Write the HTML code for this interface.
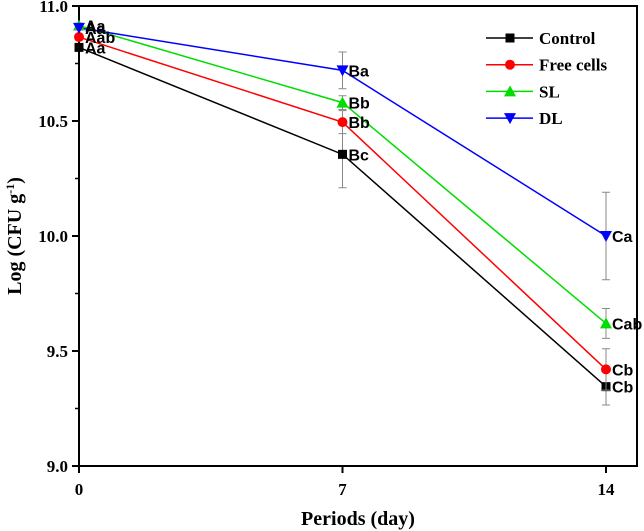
<!DOCTYPE html>
<html><head><meta charset="utf-8"><style>
body{margin:0;background:#fff;}
svg{display:block;font-family:"Liberation Serif",serif;}
.lab{font-family:"Liberation Sans",sans-serif;font-weight:bold;font-size:16px;}
</style></head><body>
<svg id="c" width="644" height="531" xmlns="http://www.w3.org/2000/svg"></svg>
<script>
const days=[0,7,14];
const xTicks=[0,7,14];
const yTicks=[9.0,9.5,10.0,10.5,11.0];
const names=["Control","Free cells","SL","DL"];
const colors=["#000","#f00","#0d0","#00f"];
const ctrl=[10.82,10.355,9.345];
const free=[10.865,10.495,9.42];
const sl=[10.915,10.58,9.62];
const dl=[10.905,10.72,10.0];
const ctrlErr=[0.01,0.145,0.08];
const freeErr=[0.01,0.05,0.09];
const slErr=[0.01,0.03,0.065];
const dlErr=[0.01,0.08,0.19];
const ctrlLab=["Aa","Bc","Cb"];
const freeLab=["Aab","Bb","Cb"];
const slLab=["Aa","Bb","Cab"];
const dlLab=["Aa","Ba","Ca"];
const series=[ctrl,free,sl,dl],errs=[ctrlErr,freeErr,slErr,dlErr],labs=[ctrlLab,freeLab,slLab,dlLab];
const L=79,R=637,T=6,B=466;
const X=d=>L+d*(606-79)/14;
const Y=v=>B-(v-9)*(B-T)/2;
const svg=document.getElementById('c');
const NS="http://www.w3.org/2000/svg";
function el(t,a,txt){const e=document.createElementNS(NS,t);for(const k in a)e.setAttribute(k,a[k]);if(txt!=null)e.textContent=txt;svg.appendChild(e);return e;}
let f=el('rect',{x:L,y:T,width:R-L,height:B-T,fill:'none',stroke:'#000','stroke-width':2});


yTicks.forEach((v,i)=>{
 let t=el('line',{x1:L-7,x2:L,y1:Y(v),y2:Y(v),stroke:'#000','stroke-width':2});
 
 
 if(i<yTicks.length-1){let m=el('line',{x1:L-4,x2:L,y1:Y(v+0.25),y2:Y(v+0.25),stroke:'#000','stroke-width':1.5});
 
 }
 let l=el('text',{x:L-11,y:Y(v)+6,'text-anchor':'end','font-size':17,'font-weight':'bold'},v.toFixed(1));
 
 
});
xTicks.forEach(d=>{
 let t=el('line',{x1:X(d),x2:X(d),y1:B,y2:B+7,stroke:'#000','stroke-width':2});
 
 
 let l=el('text',{x:X(d),y:B+29,'text-anchor':'middle','font-size':17,'font-weight':'bold'},d);
 
 
});
let xt=el('text',{x:(L+R)/2,y:525,'text-anchor':'middle','font-size':20,'font-weight':'bold'},'Periods (day)');


let yt=el('text',{x:0,y:0,'text-anchor':'middle','font-size':20,'font-weight':'bold',transform:`translate(21,${(T+B)/2}) rotate(-90)`});


yt.innerHTML='Log (CFU g<tspan dy="-7" font-size="12">-1</tspan><tspan dy="7">)</tspan>';
function marker(i,cx,cy){
 let m;
 if(i===0)m=el('rect',{x:cx-4.5,y:cy-4.5,width:9,height:9,fill:colors[i]});
 else if(i===1)m=el('circle',{cx:cx,cy:cy,r:5,fill:colors[i]});
 else if(i===2)m=el('polygon',{points:`${cx},${cy-6} ${cx-6},${cy+5} ${cx+6},${cy+5}`,fill:colors[i]});
 else m=el('polygon',{points:`${cx},${cy+6} ${cx-6},${cy-5} ${cx+6},${cy-5}`,fill:colors[i]});
 return m;
}
series.forEach((s,i)=>{
 let p=el('polyline',{points:s.map((v,j)=>X(days[j])+','+Y(v)).join(' '),fill:'none',stroke:colors[i],'stroke-width':1.5});
 
 
});
series.forEach((s,i)=>{
 s.forEach((v,j)=>{
  const x=X(days[j]),e=errs[i][j];
  let eb=el('path',{d:`M${x},${Y(v-e)}V${Y(v+e)}M${x-4},${Y(v-e)}h8M${x-4},${Y(v+e)}h8`,stroke:'#888','stroke-width':1,fill:'none'});
  
  
  let m=marker(i,x,Y(v));
  
  
  let t=el('text',{x:x+6,y:Y(v)+6,'class':'lab'},labs[i][j]);
  
  
 });
});
names.forEach((n,i)=>{
 const y=38+i*26.7;
 let ln=el('line',{x1:486,x2:533,y1:y,y2:y,stroke:colors[i],'stroke-width':1.5});
 
 
 let m=marker(i,510,y);
 
 
 let t=el('text',{x:539,y:y+6,'font-size':17,'font-weight':'bold'},n);
 
 
});
</script>
</body></html>
